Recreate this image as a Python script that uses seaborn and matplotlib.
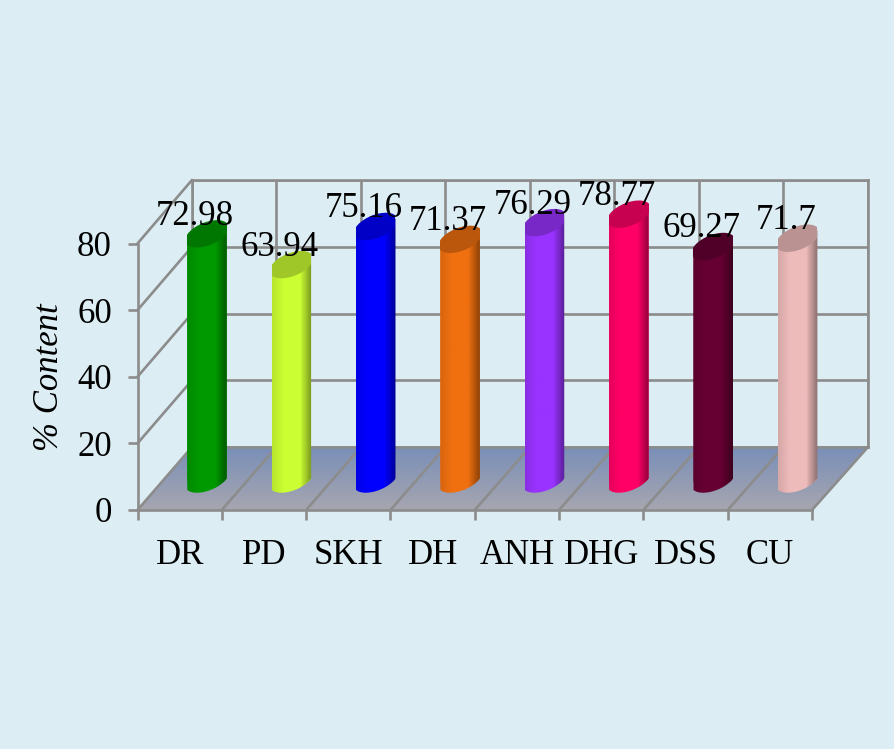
"""
Eight cylinder bars on a fake 3D frame, % content per sample.
"""

import numpy as np
import pandas as pd
import matplotlib
matplotlib.use("Agg")
import matplotlib.pyplot as plt
from matplotlib.colors import to_rgb
from matplotlib.patches import ConnectionPatch, Ellipse, Polygon, Rectangle
from matplotlib.transforms import IdentityTransform
import seaborn as sns

# ---------------- DATA ---------------- #
samples = ["DR", "PD", "SKH", "DH", "ANH", "DHG", "DSS", "CU"]
content = [72.98, 63.94, 75.16, 71.37, 76.29, 78.77, 69.27, 71.7]
value_labels = ["72.98", "63.94", "75.16", "71.37", "76.29", "78.77", "69.27", "71.7"]
bar_colors = ["#009900", "#CCFF33", "#0000FF", "#F07010",
              "#9933FF", "#FF0066", "#660033", "#EEBBBB"]
y_ticks = [0, 20, 40, 60, 80]

# ---------------- LAYOUT ---------------- #
W, H = 895, 749
DPI = 100
BG = "#DCEEF4"
GRID = "#8C8C8C"
LW = 1.9
FONT = "Liberation Serif"
FS = 25
CAP_W, CAP_H, TILT = 46, 23, 22  # cylinder end caps, in pixels

sns.set_style("white")
plt.rcParams["font.family"] = [FONT, "DejaVu Sans"]
plt.rcParams["text.color"] = "black"
plt.rcParams["axes.labelcolor"] = "black"
plt.rcParams["xtick.labelcolor"] = "black"
plt.rcParams["ytick.labelcolor"] = "black"

fig = plt.figure(figsize=(W / DPI, H / DPI), dpi=DPI, facecolor=BG)


def place(x0, x1, ytop, ybot, zorder):
    a = fig.add_axes([x0 / W, 1 - ybot / H, (x1 - x0) / W, (ybot - ytop) / H])
    a.set_zorder(zorder)
    a.patch.set_alpha(0)
    return a


# ---------------- FLOOR ---------------- #
bg = place(0, W, 0, H, 0)
bg.set_xlim(0, W)
bg.set_ylim(H, 0)
bg.axis("off")
floor = Polygon([(137.5, 510), (812, 510), (868, 447), (192, 447)],
                transform=bg.transData, facecolor="none", edgecolor="none")
bg.add_patch(floor)
top_c, bot_c = np.array(to_rgb("#7A8FB8")), np.array(to_rgb("#A6A6B0"))
ramp = np.linspace(0, 1, 64)[:, None, None]
floor_img = top_c * (1 - ramp) + bot_c * ramp
im = bg.imshow(floor_img, extent=(137, 868, 510, 447), aspect="auto")
im.set_clip_path(floor)
bg.set_xlim(0, W)
bg.set_ylim(H, 0)

# ---------------- BACK WALL ---------------- #
wall = place(192, 868, 180, 447, 1)
wall.set_xlim(0, 8)
wall.set_ylim(0, 80)
wall.set_xticks(range(9))
wall.set_yticks(y_ticks)
wall.tick_params(length=0, labelbottom=False, labelleft=False)
wall.grid(True, color=GRID, lw=LW)
for s in wall.spines.values():
    s.set_color(GRID)
    s.set_linewidth(LW)

# ---------------- FRONT AXES ---------------- #
front = place(137.5, 812, 243.5, 510, 2)
front.set_xlim(0, 8)
front.set_ylim(0, 80)
front.set_xticks(range(9))
front.set_xticklabels([])
front.set_xticks(np.arange(8) + 0.5, labels=samples, minor=True)
front.set_yticks(y_ticks)
front.tick_params(axis="x", which="major", bottom=True, length=7.5, width=LW, color=GRID)
front.tick_params(axis="x", which="minor", bottom=False, length=0, pad=21, labelsize=FS)
front.tick_params(axis="y", left=True, length=7.5, width=LW, color=GRID, pad=11, labelsize=FS)
front.set_ylabel("% Content", fontsize=FS, style="italic", labelpad=8)
sns.despine(ax=front)
for side in ["left", "bottom"]:
    front.spines[side].set_color(GRID)
    front.spines[side].set_linewidth(LW)

# diagonals joining the front axes to the back wall
links = [(0, v) for v in y_ticks] + [(i, 0) for i in range(1, 9)]
for pt in links:
    fig.add_artist(ConnectionPatch(pt, pt, coordsA=front.transData, coordsB=wall.transData,
                                   color=GRID, lw=LW, zorder=1.5))

# ---------------- BARS ---------------- #
ax = place(164.8, 839.8, 193, 509.2, 3)
df = pd.DataFrame({"sample": samples, "content": content})
sns.barplot(data=df, x="sample", y="content", hue="sample", palette=bar_colors,
            width=0.468, legend=False, ax=ax, saturation=1, linewidth=0)
ax.set_xlim(-0.5, 7.5)
ax.set_ylim(-8, 85)
ax.axis("off")

shade = np.concatenate([np.linspace(0.9, 1.0, 10), np.ones(12), np.linspace(1.0, 0.6, 10)])
theta = np.radians(TILT)
t = np.linspace(0, -np.pi, 60)
for i, container in enumerate(ax.containers):
    rect = container.patches[0]
    base = np.array(to_rgb(bar_colors[i]))
    x0, x1 = rect.get_x(), rect.get_x() + rect.get_width()
    val = rect.get_height()
    grad = (base[None, None, :] * shade[None, :, None]).clip(0, 1)

    px_top = ax.transData.transform((i, val))
    px_bot = ax.transData.transform((i, 0)) + np.array([0, 3])
    left = ax.transData.transform((x0, 0))[0]
    right = ax.transData.transform((x1, 0))[0]
    half = (right - left) / 2
    rise = np.tan(theta) * half

    # cylinder outline: slanted top line, lower arc of the bottom cap
    a, b = CAP_W / 2, CAP_H / 2
    arc_x = px_bot[0] + a * np.cos(t) * np.cos(theta) - b * np.sin(t) * np.sin(theta)
    arc_y = px_bot[1] + a * np.cos(t) * np.sin(theta) + b * np.sin(t) * np.cos(theta)
    arc_x = np.clip(arc_x, left, right)
    outline = np.vstack([[left, px_top[1] - rise], [right, px_top[1] + rise],
                         np.column_stack([arc_x, arc_y])])
    body = Polygon(outline, transform=IdentityTransform(), facecolor="none", edgecolor="none")
    ax.add_patch(body)
    rect.set_clip_path(body)

    img = ax.imshow(grad, extent=(x0, x1, -8, 85), aspect="auto", zorder=3)
    img.set_clip_path(body)

    cap_top = Ellipse(px_top, CAP_W, CAP_H, angle=TILT, transform=IdentityTransform(),
                      facecolor=base * 0.78, edgecolor="none", zorder=4)
    ax.add_patch(cap_top)
    cap_top.set_clip_path(Rectangle((x0, -8), x1 - x0, 93, transform=ax.transData))
    ax.annotate(value_labels[i], xy=(i, val), xytext=(-8.6, 6.5), textcoords="offset points",
                ha="center", va="baseline", fontsize=FS, color="black", zorder=5)

ax.set_xlim(-0.5, 7.5)
ax.set_ylim(-8, 85)

fig.savefig("out.png", dpi=DPI, facecolor=BG)
